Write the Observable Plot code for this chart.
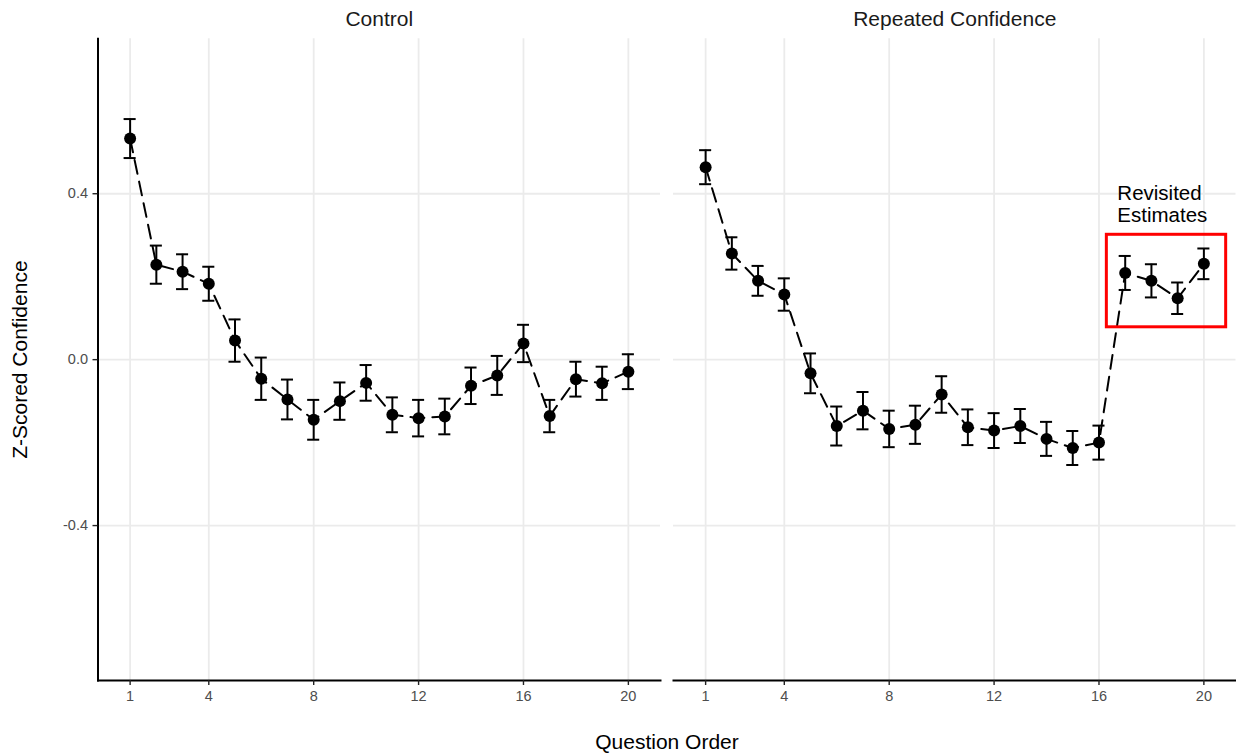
<!DOCTYPE html>
<html>
<head>
<meta charset="utf-8">
<script src="https://cdn.jsdelivr.net/npm/d3@7"></script>
<script src="https://cdn.jsdelivr.net/npm/@observablehq/plot@0.6"></script>
<style>
  html, body { margin: 0; padding: 0; background: #fff; }
  #chart svg { display: block; }
</style>
</head>
<body>
<div id="chart"></div>
<script>
// Panels (one per experimental condition)
const conditions = ["Control", "Repeated Confidence"];

// Question position within the survey
const questions = [1, 2, 3, 4, 5, 6, 7, 8, 9, 10, 11, 12, 13, 14, 15, 16, 17, 18, 19, 20];

// Mean z-scored confidence and standard error, Control condition
const controlMean = [0.533, 0.229, 0.212, 0.183, 0.046, -0.046, -0.096, -0.145, -0.100, -0.056,
                     -0.133, -0.141, -0.137, -0.063, -0.038, 0.039, -0.136, -0.047, -0.057, -0.029];
const controlSE   = [0.047, 0.046, 0.042, 0.041, 0.051, 0.051, 0.048, 0.048, 0.045, 0.043,
                     0.042, 0.044, 0.043, 0.044, 0.047, 0.045, 0.039, 0.042, 0.040, 0.042];

// Mean z-scored confidence and standard error, Repeated Confidence condition
const repeatedMean = [0.464, 0.256, 0.190, 0.157, -0.033, -0.160, -0.123, -0.167, -0.157, -0.084,
                      -0.163, -0.171, -0.160, -0.191, -0.213, -0.200, 0.209, 0.190, 0.148, 0.231];
const repeatedSE   = [0.041, 0.039, 0.036, 0.039, 0.048, 0.047, 0.045, 0.044, 0.046, 0.044,
                      0.043, 0.042, 0.041, 0.041, 0.041, 0.041, 0.041, 0.040, 0.038, 0.037];

// Questions asked a second time in the Repeated Confidence condition
const revisitedQuestions = [17, 18, 19, 20];
const revisitedLabel = "Revisited\nEstimates";

// Axis ticks
const xTicks = [1, 4, 8, 12, 16, 20];
const yTicks = [-0.4, 0, 0.4];

// Long-format table for the faceted plot
const rows = conditions.flatMap((condition) => {
  const means = condition === "Control" ? controlMean : repeatedMean;
  const ses = condition === "Control" ? controlSE : repeatedSE;
  return questions.map((q, i) => ({condition, q, mean: means[i], se: ses[i]}));
});

// Highlight box around the revisited estimates
const revisited = rows.filter((d) => d.condition === "Repeated Confidence" && revisitedQuestions.includes(d.q));
const box = [{
  condition: "Repeated Confidence",
  x1: d3.min(revisited, (d) => d.q) - 0.7,
  x2: d3.max(revisited, (d) => d.q) + 0.85,
  y1: d3.min(revisited, (d) => d.mean - d.se) - 0.032,
  y2: d3.max(revisited, (d) => d.mean + d.se) + 0.033
}];
const note = [{condition: "Repeated Confidence", x: box[0].x1 + 0.4, y: box[0].y2 + 0.123, text: revisitedLabel}];

const capHalf = 0.23;
const font = "'Liberation Sans', Arial, Helvetica, sans-serif";
const grid = {stroke: "#ebebeb", strokeOpacity: 1, strokeWidth: 1.8};

const chart = Plot.plot({
  width: 1236,
  height: 755,
  marginLeft: 97.5,
  marginRight: 0.5,
  marginTop: 38.3,
  marginBottom: 75,
  style: {fontFamily: font, background: "#fff"},
  fx: {domain: conditions, paddingInner: 0.0226, paddingOuter: 0, round: false},
  x: {domain: [-0.225, 21.225]},
  y: {domain: [-0.7735, 0.7735]},
  marks: [
    Plot.gridX({ticks: xTicks, ...grid}),
    Plot.gridY({ticks: yTicks, ...grid}),
    Plot.frame({anchor: "bottom", stroke: "#000", strokeWidth: 2}),
    Plot.frame({anchor: "left", facetAnchor: "left", stroke: "#000", strokeWidth: 2}),
    Plot.axisX({ticks: xTicks, tickSize: 5, tickPadding: 5, fontSize: 14.5, stroke: "#222", strokeWidth: 1.4, fill: "#4d4d4d", label: null}),
    Plot.axisY({ticks: yTicks, tickSize: 5, tickPadding: 5, fontSize: 14.5, stroke: "#222", strokeWidth: 1.4, fill: "#4d4d4d",
                tickFormat: (d) => d3.format(".1f")(d).replace("−", "-"), label: null}),
    Plot.axisY({ticks: [], tickSize: 0, label: "Z-Scored Confidence", labelAnchor: "center", labelArrow: "none",
                labelOffset: 86, fontSize: 21, fill: "#000"}),
    Plot.axisFx({anchor: "top", tickSize: 0, tickPadding: 13, fontSize: 21, fill: "#1a1a1a", label: null}),
    Plot.axisFx({anchor: "bottom", tickSize: 0, text: null, label: "Question Order", labelAnchor: "center",
                 labelArrow: "none", labelOffset: 68, fontSize: 21, fill: "#000"}),
    Plot.line(rows, {x: "q", y: "mean", fx: "condition", stroke: "#000", strokeWidth: 2, strokeDasharray: "14,8"}),
    Plot.ruleX(rows, {x: "q", y1: (d) => d.mean - d.se, y2: (d) => d.mean + d.se, fx: "condition", stroke: "#000", strokeWidth: 2}),
    Plot.ruleY(rows, {y: (d) => d.mean + d.se, x1: (d) => d.q - capHalf, x2: (d) => d.q + capHalf, fx: "condition", stroke: "#000", strokeWidth: 2}),
    Plot.ruleY(rows, {y: (d) => d.mean - d.se, x1: (d) => d.q - capHalf, x2: (d) => d.q + capHalf, fx: "condition", stroke: "#000", strokeWidth: 2}),
    Plot.dot(rows, {x: "q", y: "mean", fx: "condition", r: 6, fill: "#000", stroke: null}),
    Plot.rect(box, {x1: "x1", x2: "x2", y1: "y1", y2: "y2", fx: "condition", fill: "none", stroke: "#ff0000", strokeWidth: 3}),
    Plot.text(note, {x: "x", y: "y", fx: "condition", text: "text", textAnchor: "start", lineAnchor: "top",
                     lineHeight: 1.08, fontSize: 20.5, fill: "#000"})
  ]
});

document.getElementById("chart").append(chart);
</script>
</body>
</html>
